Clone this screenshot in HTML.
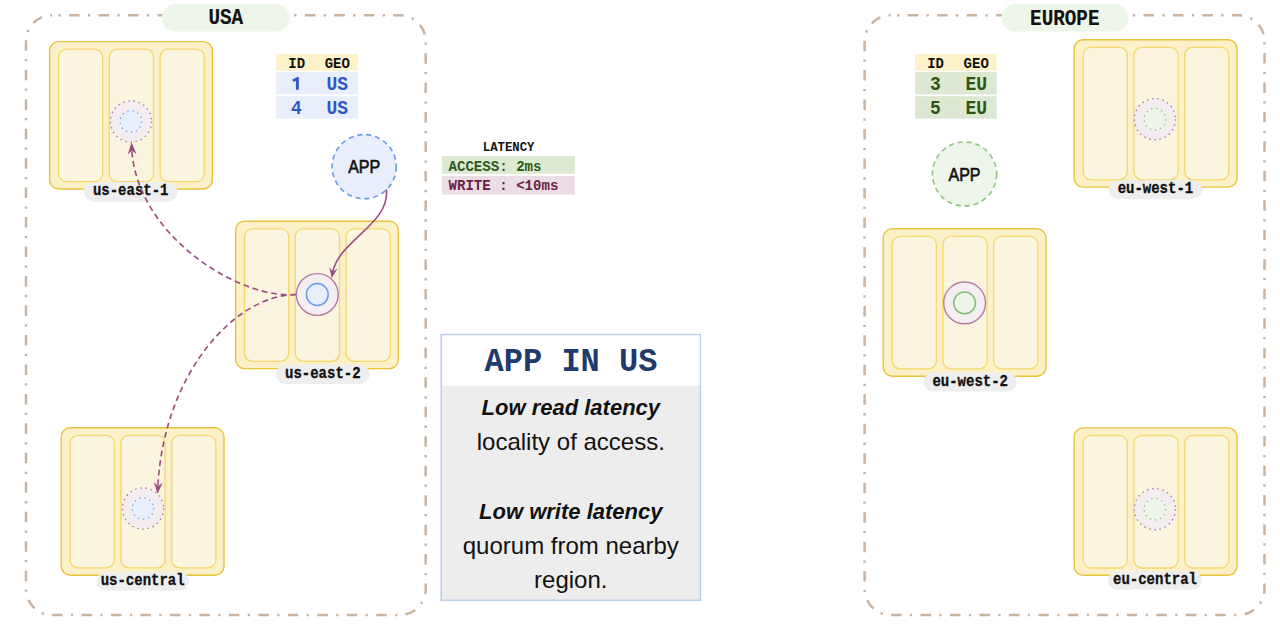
<!DOCTYPE html>
<html><head><meta charset="utf-8"><style>
html,body{margin:0;padding:0;background:#fff;width:1280px;height:637px;overflow:hidden}
svg{display:block}
</style></head><body>
<svg width="1280" height="637" viewBox="0 0 1280 637">
<rect x="26" y="15.2" width="399.7" height="599.8" rx="26" fill="none" stroke="#c9b4a1" stroke-width="2.5" stroke-dasharray="10.5 8.35 2.3 8.32" stroke-dashoffset="12.37"/>
<rect x="864.6" y="15.2" width="399.9" height="599.8" rx="26" fill="none" stroke="#c9b4a1" stroke-width="2.5" stroke-dasharray="10.5 8.35 2.3 8.32" stroke-dashoffset="12.37"/>
<rect x="49.6" y="41.6" width="162.8" height="147.4" rx="9" fill="#fcf0c8" stroke="#e8c43c" stroke-width="1.4"/>
<rect x="58.50" y="49.20" width="44.2" height="132.5" rx="8" fill="#fbf4de" stroke="#f5d76a" stroke-width="1.3"/>
<rect x="109.30" y="49.20" width="44.2" height="132.5" rx="8" fill="#fbf4de" stroke="#f5d76a" stroke-width="1.3"/>
<rect x="160.10" y="49.20" width="44.2" height="132.5" rx="8" fill="#fbf4de" stroke="#f5d76a" stroke-width="1.3"/>
<rect x="235.6" y="221.2" width="162.8" height="147.4" rx="9" fill="#fcf0c8" stroke="#e8c43c" stroke-width="1.4"/>
<rect x="244.50" y="228.80" width="44.2" height="132.5" rx="8" fill="#fbf4de" stroke="#f5d76a" stroke-width="1.3"/>
<rect x="295.30" y="228.80" width="44.2" height="132.5" rx="8" fill="#fbf4de" stroke="#f5d76a" stroke-width="1.3"/>
<rect x="346.10" y="228.80" width="44.2" height="132.5" rx="8" fill="#fbf4de" stroke="#f5d76a" stroke-width="1.3"/>
<rect x="61.2" y="427.8" width="162.8" height="147.4" rx="9" fill="#fcf0c8" stroke="#e8c43c" stroke-width="1.4"/>
<rect x="70.10" y="435.40" width="44.2" height="132.5" rx="8" fill="#fbf4de" stroke="#f5d76a" stroke-width="1.3"/>
<rect x="120.90" y="435.40" width="44.2" height="132.5" rx="8" fill="#fbf4de" stroke="#f5d76a" stroke-width="1.3"/>
<rect x="171.70" y="435.40" width="44.2" height="132.5" rx="8" fill="#fbf4de" stroke="#f5d76a" stroke-width="1.3"/>
<rect x="1074.2" y="39.7" width="162.8" height="147.4" rx="9" fill="#fcf0c8" stroke="#e8c43c" stroke-width="1.4"/>
<rect x="1083.10" y="47.30" width="44.2" height="132.5" rx="8" fill="#fbf4de" stroke="#f5d76a" stroke-width="1.3"/>
<rect x="1133.90" y="47.30" width="44.2" height="132.5" rx="8" fill="#fbf4de" stroke="#f5d76a" stroke-width="1.3"/>
<rect x="1184.70" y="47.30" width="44.2" height="132.5" rx="8" fill="#fbf4de" stroke="#f5d76a" stroke-width="1.3"/>
<rect x="883.2" y="228.8" width="162.8" height="147.4" rx="9" fill="#fcf0c8" stroke="#e8c43c" stroke-width="1.4"/>
<rect x="892.10" y="236.40" width="44.2" height="132.5" rx="8" fill="#fbf4de" stroke="#f5d76a" stroke-width="1.3"/>
<rect x="942.90" y="236.40" width="44.2" height="132.5" rx="8" fill="#fbf4de" stroke="#f5d76a" stroke-width="1.3"/>
<rect x="993.70" y="236.40" width="44.2" height="132.5" rx="8" fill="#fbf4de" stroke="#f5d76a" stroke-width="1.3"/>
<rect x="1074.2" y="427.9" width="162.8" height="147.4" rx="9" fill="#fcf0c8" stroke="#e8c43c" stroke-width="1.4"/>
<rect x="1083.10" y="435.50" width="44.2" height="132.5" rx="8" fill="#fbf4de" stroke="#f5d76a" stroke-width="1.3"/>
<rect x="1133.90" y="435.50" width="44.2" height="132.5" rx="8" fill="#fbf4de" stroke="#f5d76a" stroke-width="1.3"/>
<rect x="1184.70" y="435.50" width="44.2" height="132.5" rx="8" fill="#fbf4de" stroke="#f5d76a" stroke-width="1.3"/>
<circle cx="131" cy="121.5" r="20.6" fill="#f3edf0" stroke="#b27ba0" stroke-width="1.4" stroke-dasharray="1.5 3.7"/>
<circle cx="131" cy="121.5" r="10.8" fill="#e8effc" stroke="#6a9be9" stroke-width="1.3" stroke-dasharray="1.3 3.9"/>
<circle cx="143" cy="508.5" r="20.6" fill="#f3edf0" stroke="#b27ba0" stroke-width="1.4" stroke-dasharray="1.5 3.7"/>
<circle cx="143" cy="508.5" r="10.8" fill="#e8effc" stroke="#6a9be9" stroke-width="1.3" stroke-dasharray="1.3 3.9"/>
<circle cx="317.3" cy="294.5" r="20.9" fill="#f4eef2" stroke="#b47ba0" stroke-width="1.4"/>
<circle cx="317.3" cy="294.5" r="10.9" fill="#e8effc" stroke="#6a9be9" stroke-width="1.5"/>
<circle cx="1154.9" cy="119.2" r="20.6" fill="#f3edf0" stroke="#b27ba0" stroke-width="1.4" stroke-dasharray="1.5 3.7"/>
<circle cx="1154.9" cy="119.2" r="10.8" fill="#edf5ea" stroke="#86c075" stroke-width="1.3" stroke-dasharray="1.3 3.9"/>
<circle cx="1154.9" cy="509.1" r="20.6" fill="#f3edf0" stroke="#b27ba0" stroke-width="1.4" stroke-dasharray="1.5 3.7"/>
<circle cx="1154.9" cy="509.1" r="10.8" fill="#edf5ea" stroke="#86c075" stroke-width="1.3" stroke-dasharray="1.3 3.9"/>
<circle cx="964.6" cy="302.9" r="20.9" fill="#f4eef2" stroke="#b47ba0" stroke-width="1.4"/>
<circle cx="964.6" cy="302.9" r="10.9" fill="#edf5ea" stroke="#86c075" stroke-width="1.5"/>
<rect x="83.80" y="182.00" width="93.80" height="19.40" rx="9.70" fill="#eeeeee"/>
<text transform="translate(130.70,191.70) scale(1,1.14)" x="0" y="0" dominant-baseline="central" text-anchor="middle" font-family="Liberation Mono" font-weight="bold" font-size="14" fill="#111" stroke="#111" stroke-width="0.3">us-east-1</text>
<rect x="276.10" y="364.40" width="93.40" height="19.70" rx="9.85" fill="#eeeeee"/>
<text transform="translate(322.80,374.25) scale(1,1.14)" x="0" y="0" dominant-baseline="central" text-anchor="middle" font-family="Liberation Mono" font-weight="bold" font-size="14" fill="#111" stroke="#111" stroke-width="0.3">us-east-2</text>
<rect x="96.50" y="571.65" width="92.30" height="19.20" rx="9.60" fill="#eeeeee"/>
<text transform="translate(142.65,581.25) scale(1,1.14)" x="0" y="0" dominant-baseline="central" text-anchor="middle" font-family="Liberation Mono" font-weight="bold" font-size="14" fill="#111" stroke="#111" stroke-width="0.3">us-central</text>
<rect x="1108.80" y="180.15" width="93.20" height="19.00" rx="9.50" fill="#eeeeee"/>
<text transform="translate(1155.40,189.65) scale(1,1.14)" x="0" y="0" dominant-baseline="central" text-anchor="middle" font-family="Liberation Mono" font-weight="bold" font-size="14" fill="#111" stroke="#111" stroke-width="0.3">eu-west-1</text>
<rect x="923.60" y="372.50" width="93.20" height="19.00" rx="9.50" fill="#eeeeee"/>
<text transform="translate(970.20,382.00) scale(1,1.14)" x="0" y="0" dominant-baseline="central" text-anchor="middle" font-family="Liberation Mono" font-weight="bold" font-size="14" fill="#111" stroke="#111" stroke-width="0.3">eu-west-2</text>
<rect x="1108.00" y="571.25" width="94.00" height="18.50" rx="9.25" fill="#eeeeee"/>
<text transform="translate(1155.00,580.50) scale(1,1.14)" x="0" y="0" dominant-baseline="central" text-anchor="middle" font-family="Liberation Mono" font-weight="bold" font-size="14" fill="#111" stroke="#111" stroke-width="0.3">eu-central</text>
<rect x="161.90" y="4.00" width="127.80" height="27.40" rx="13.70" fill="#eef6ea"/>
<text transform="translate(225.80,18.50) scale(1,1.13)" x="0" y="0" dominant-baseline="central" text-anchor="middle" font-family="Liberation Mono" font-weight="bold" font-size="19.3" fill="#111" stroke="#111" stroke-width="0.15">USA</text>
<rect x="1001.25" y="4.10" width="127.10" height="27.50" rx="13.75" fill="#eef6ea"/>
<text transform="translate(1064.80,18.85) scale(1,1.13)" x="0" y="0" dominant-baseline="central" text-anchor="middle" font-family="Liberation Mono" font-weight="bold" font-size="19.3" fill="#111" stroke="#111" stroke-width="0.15">EUROPE</text>
<rect x="276.1" y="54" width="81.7" height="16.8" fill="#fdf2c9"/>
<text transform="translate(296.70,67.6) scale(1,1.06)" x="0" y="0" text-anchor="middle" font-family="Liberation Mono" font-weight="bold" font-size="14" fill="#111">ID</text>
<text transform="translate(337.30,67.6) scale(1,1.06)" x="0" y="0" text-anchor="middle" font-family="Liberation Mono" font-weight="bold" font-size="14" fill="#111">GEO</text>
<rect x="276.1" y="72.0" width="81.7" height="22.4" fill="#e8eefa"/>
<path d="M298.8,77 L298.8,89.7 L295.9,89.7 L295.9,80.8 L293.1,81.9 L292.5,79.4 L297.4,77 Z" fill="#2f57c9"/>
<text transform="translate(337.30,89.60) scale(1,1.08)" x="0" y="0" text-anchor="middle" font-family="Liberation Mono" font-weight="bold" font-size="18" fill="#2f57c9">US</text>
<rect x="276.1" y="96.2" width="81.7" height="22.4" fill="#e8eefa"/>
<text transform="translate(296.40,113.80) scale(1,1.08)" x="0" y="0" text-anchor="middle" font-family="Liberation Mono" font-weight="bold" font-size="18" fill="#2f57c9">4</text>
<text transform="translate(337.30,113.80) scale(1,1.08)" x="0" y="0" text-anchor="middle" font-family="Liberation Mono" font-weight="bold" font-size="18" fill="#2f57c9">US</text>
<rect x="915" y="54" width="81.7" height="16.8" fill="#fdf2c9"/>
<text transform="translate(935.60,67.6) scale(1,1.06)" x="0" y="0" text-anchor="middle" font-family="Liberation Mono" font-weight="bold" font-size="14" fill="#111">ID</text>
<text transform="translate(976.20,67.6) scale(1,1.06)" x="0" y="0" text-anchor="middle" font-family="Liberation Mono" font-weight="bold" font-size="14" fill="#111">GEO</text>
<rect x="915" y="72.0" width="81.7" height="22.4" fill="#dce8d2"/>
<text transform="translate(935.30,89.60) scale(1,1.08)" x="0" y="0" text-anchor="middle" font-family="Liberation Mono" font-weight="bold" font-size="18" fill="#2e5415">3</text>
<text transform="translate(976.20,89.60) scale(1,1.08)" x="0" y="0" text-anchor="middle" font-family="Liberation Mono" font-weight="bold" font-size="18" fill="#2e5415">EU</text>
<rect x="915" y="96.2" width="81.7" height="22.4" fill="#dce8d2"/>
<text transform="translate(935.30,113.80) scale(1,1.08)" x="0" y="0" text-anchor="middle" font-family="Liberation Mono" font-weight="bold" font-size="18" fill="#2e5415">5</text>
<text transform="translate(976.20,113.80) scale(1,1.08)" x="0" y="0" text-anchor="middle" font-family="Liberation Mono" font-weight="bold" font-size="18" fill="#2e5415">EU</text>
<circle cx="364.2" cy="166.7" r="32.1" fill="#e8eefb" stroke="#6c9be8" stroke-width="1.6" stroke-dasharray="5.2 3.8"/>
<text transform="translate(364.2,173.2) scale(1,1.1)" x="0" y="0" text-anchor="middle" font-family="Liberation Sans" font-size="16" fill="#111" stroke="#111" stroke-width="0.55">APP</text>
<circle cx="964.5" cy="174" r="32.1" fill="#eef6ec" stroke="#8fc47b" stroke-width="1.6" stroke-dasharray="5.2 3.8"/>
<text transform="translate(964.5,180.5) scale(1,1.1)" x="0" y="0" text-anchor="middle" font-family="Liberation Sans" font-size="16" fill="#111" stroke="#111" stroke-width="0.55">APP</text>
<text x="508.6" y="151.2" text-anchor="middle" font-family="Liberation Mono" font-weight="bold" font-size="12.3" fill="#111">LATENCY</text>
<rect x="442" y="155.9" width="132.9" height="17.9" fill="#dde9d3"/>
<text x="448.5" y="170.6" font-family="Liberation Mono" font-weight="bold" font-size="14.1" fill="#2d5a1a">ACCESS: 2ms</text>
<rect x="442" y="175.9" width="132.9" height="18.6" fill="#ebdde5"/>
<text x="448.5" y="189.9" font-family="Liberation Mono" font-weight="bold" font-size="14.1" fill="#6b1d45">WRITE : &lt;10ms</text>
<rect x="441.2" y="334.6" width="259.2" height="265.7" fill="#ededed" stroke="#b8cfec" stroke-width="1.5"/>
<rect x="442" y="335.4" width="257.6" height="50.1" fill="#ffffff"/>
<text transform="translate(571,371.4) scale(1,1.05)" x="0" y="0" text-anchor="middle" font-family="Liberation Mono" font-weight="bold" font-size="32" fill="#1f3b6b">APP IN US</text>
<text x="570.8" y="415" text-anchor="middle" font-family="Liberation Sans" font-style="italic" font-weight="bold" font-size="22" fill="#111">Low read latency</text>
<text x="570.8" y="450.3" text-anchor="middle" font-family="Liberation Sans" font-size="24" fill="#111">locality of access.</text>
<text x="570.8" y="518.9" text-anchor="middle" font-family="Liberation Sans" font-style="italic" font-weight="bold" font-size="22" fill="#111">Low write latency</text>
<text x="570.8" y="553.7" text-anchor="middle" font-family="Liberation Sans" font-size="24" fill="#111">quorum from nearby</text>
<text x="570.8" y="588.3" text-anchor="middle" font-family="Liberation Sans" font-size="24" fill="#111">region.</text>
<path d="M386.40,189.40 C390.27,223.69 340.00,239.33 332.63,272.05" fill="none" stroke="#9a4f82" stroke-width="1.6"/>
<path transform="translate(331.8,278) rotate(99)" d="M0,0 L-10.5,-4.4 L-6.3,0 L-10.5,4.4 Z" fill="#9a4f82"/>
<path d="M296.00,294.50 C240.58,299.95 137.06,236.53 131.72,149.24" fill="none" stroke="#9a4f82" stroke-width="1.65" stroke-dasharray="5.8 3.8"/>
<path transform="translate(131.5,142.2) rotate(-93)" d="M0,0 L-12,-4.3 L-8.5,0 L-12,4.3 Z" fill="#9a4f82"/>
<path d="M296.00,294.50 C238.44,294.40 164.35,368.52 157.81,486.89" fill="none" stroke="#9a4f82" stroke-width="1.65" stroke-dasharray="5.8 3.8"/>
<path transform="translate(157.5,494) rotate(94)" d="M0,0 L-11.5,-4.3 L-8.0,0 L-11.5,4.3 Z" fill="#9a4f82"/>
</svg>
</body></html>
